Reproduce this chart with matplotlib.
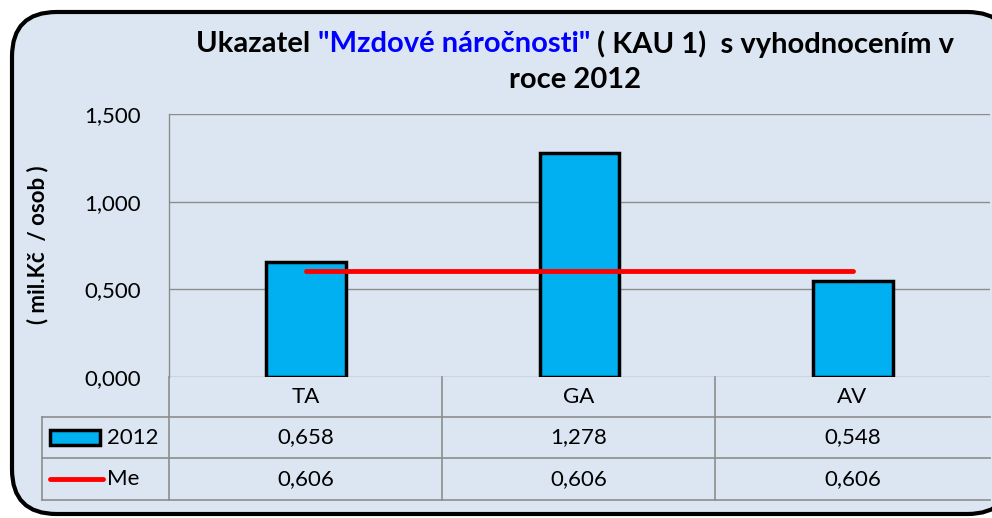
import matplotlib
matplotlib.use("Agg")
import matplotlib.pyplot as plt
from matplotlib.patches import FancyBboxPatch, Rectangle
from matplotlib.lines import Line2D
import numpy as np

categories = ["TA", "GA", "AV"]
values_2012 = [0.658, 1.278, 0.548]
values_me = [0.606, 0.606, 0.606]
series_names = ["2012", "Me"]
yticks = [0.0, 0.5, 1.0, 1.5]
ytick_labels = ["0,000", "0,500", "1,000", "1,500"]
title_parts = [("Ukazatel ", "black"), ('"Mzdové náročnosti"', "#0000FF"),
               (" ( KAU 1)  s vyhodnocením v", "black")]
title_line2 = "roce 2012"
ylabel = "( mil.Kč  / osob )"

FONT = ["Lato", "DejaVu Sans"]
plt.rcParams['font.family'] = FONT
FS = 16

W, H = 992, 518
fig = plt.figure(figsize=(W / 100, H / 100), dpi=100)
fig.patch.set_facecolor("white")

def fx(px):
    return px / W

def fy(py):
    return 1 - py / H

bg = FancyBboxPatch((fx(12), fy(514)), fx(992 - 12 + 20), fy(12) - fy(514),
                    boxstyle="round,pad=0,rounding_size=0.045",
                    transform=fig.transFigure, facecolor="#DCE6F2",
                    edgecolor="black", linewidth=3, mutation_aspect=W / H,
                    zorder=-10)
fig.patches.append(bg)

grid_c = "#8C8C8C"
ax_l, ax_r, ax_t, ax_b = 169, 990, 114, 377
ax = fig.add_axes([fx(ax_l), fy(ax_b), fx(ax_r - ax_l), fy(ax_t) - fy(ax_b)])
ax.set_zorder(1)
ax.set_facecolor("none")
x = np.arange(len(categories))
ax.bar(x, values_2012, width=0.29, color="#00B0F0", edgecolor="black",
       linewidth=2.5, zorder=3)
ax.plot(x, values_me, color="#FF0000", linewidth=3.5, zorder=4,
        solid_capstyle="round")
ax.set_xlim(-0.5, len(categories) - 0.5)
ax.set_ylim(0, 1.5)
ax.set_yticks(yticks)
ax.set_yticklabels(ytick_labels, fontsize=FS)
ax.tick_params(axis="y", length=0, pad=20)
ax.set_xticks([])
ax.grid(axis="y", color=grid_c, linewidth=1, zorder=0)
for s in ["top", "right", "bottom"]:
    ax.spines[s].set_visible(False)
ax.spines["left"].set_color(grid_c)
ax.spines["left"].set_linewidth(1)

# y label
fig.text(fx(38), fy(245), ylabel, rotation=90, ha="center", va="center",
         fontsize=16, fontweight="bold", zorder=2)

# Data table
col_edges = [169, 442, 715, 990]
row_edges = [377, 417, 458, 500]
lines = []
for cx in col_edges[:-1]:
    lines.append(((cx, cx), (row_edges[0], row_edges[-1])))
lines.append(((42, 42), (row_edges[1], row_edges[-1])))
for ry in row_edges[1:]:
    lines.append(((42, 990), (ry, ry)))
for (xs, ys) in lines:
    fig.add_artist(Line2D([fx(v) for v in xs], [fy(v) for v in ys],
                          color=grid_c, linewidth=1.2, transform=fig.transFigure,
                          zorder=2))

centers = [(col_edges[i] + col_edges[i + 1]) / 2 for i in range(len(categories))]
rc = [(row_edges[i] + row_edges[i + 1]) / 2 for i in range(3)]
for i, c in enumerate(categories):
    fig.text(fx(centers[i]), fy(rc[0]), c, ha="center", va="center", fontsize=FS)
    fig.text(fx(centers[i]), fy(rc[1]), f"{values_2012[i]:.3f}".replace(".", ","),
             ha="center", va="center", fontsize=FS)
    fig.text(fx(centers[i]), fy(rc[2]), f"{values_me[i]:.3f}".replace(".", ","),
             ha="center", va="center", fontsize=FS)

# legend keys
fig.add_artist(Rectangle((fx(50), fy(445)), fx(50), fy(430) - fy(445),
                         facecolor="#00B0F0", edgecolor="black", linewidth=2.5,
                         transform=fig.transFigure, zorder=3))
fig.add_artist(Line2D([fx(50), fx(103)], [fy(479), fy(479)], color="#FF0000",
                      linewidth=3.5, solid_capstyle="round",
                      transform=fig.transFigure, zorder=3))
fig.text(fx(107), fy(rc[1]), series_names[0], ha="left", va="center", fontsize=FS)
fig.text(fx(107), fy(rc[2]), series_names[1], ha="left", va="center", fontsize=FS)

# title (multi-colour)
fig.canvas.draw()
renderer = fig.canvas.get_renderer()
texts = []
for s, col in title_parts:
    t = fig.text(0, fy(44), s, color=col, fontsize=21, fontweight="bold",
                 ha="left", va="center")
    texts.append(t)
widths = [t.get_window_extent(renderer=renderer).width for t in texts]
total = sum(widths)
cur = 575 - total / 2
for t, w in zip(texts, widths):
    t.set_x(fx(cur))
    cur += w
fig.text(fx(575), fy(80), title_line2, ha="center", va="center", fontsize=21,
         fontweight="bold")

fig.savefig("out.png", dpi=100, facecolor=fig.get_facecolor())
